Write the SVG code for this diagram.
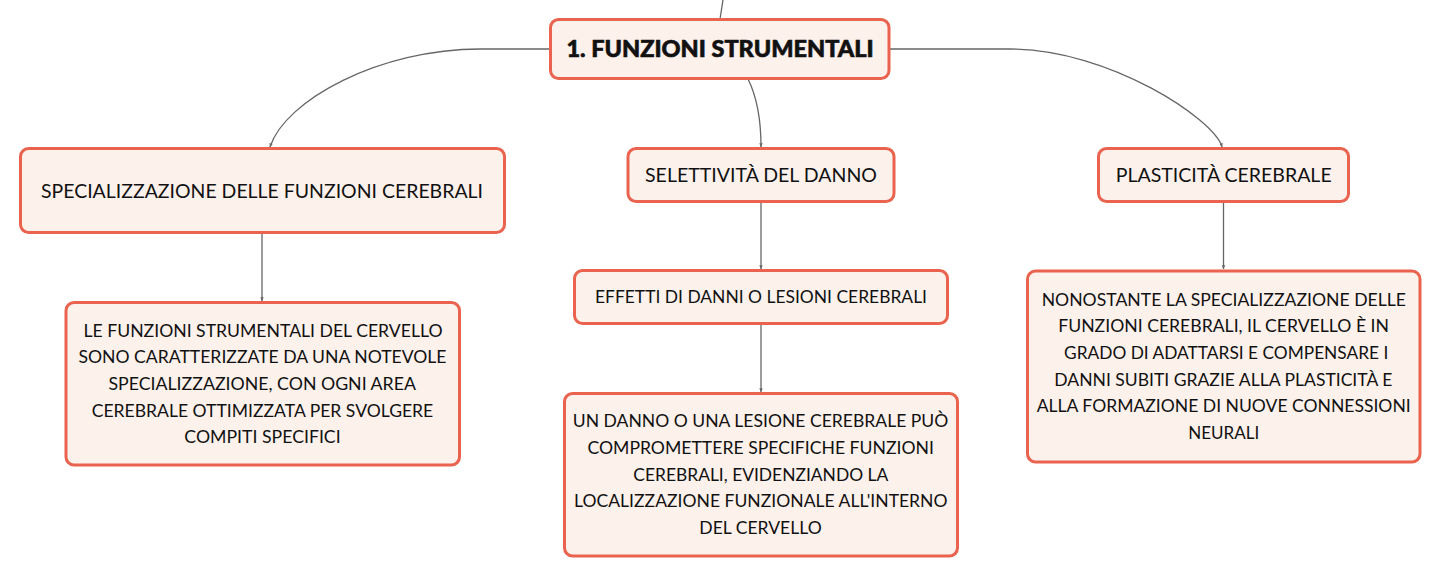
<svg xmlns="http://www.w3.org/2000/svg" width="1441" height="577" viewBox="0 0 1441 577">
<defs>
<marker id="ah" viewBox="0 0 6 6" refX="5.5" refY="3" markerWidth="4" markerHeight="4" orient="auto" markerUnits="userSpaceOnUse">
<path d="M0,0.5 L6,3 L0,5.5 Z" fill="#666"/>
</marker>
</defs>
<style>
.box{fill:#fdf1ec;stroke:#e9634f;stroke-width:3}
.t{font-family:Lato,"Noto Sans","Liberation Sans",sans-serif;fill:#111;text-anchor:middle}
.root{font-size:22px;font-weight:900;stroke:#111;stroke-width:0.6}
.l1{font-size:19px}
.l2{font-size:16.5px}
.lf{font-size:17.5px}
.c{fill:none;stroke:#666;stroke-width:1.3;marker-end:url(#ah)}
</style>
<rect width="1441" height="577" fill="#ffffff"/>
<g id="connectors">
<path class="c" style="marker-end:none" d="M723,0 L720,19"/>
<path class="c" d="M550,49 L480,49 C380,49 285,100 270,147"/>
<path class="c" d="M748,79 Q761,105 761,147"/>
<path class="c" d="M889,49 L1010,49 C1110,49 1215,120 1222,147"/>
<path class="c" d="M262,233 L262,301"/>
<path class="c" d="M761,202 L761,269"/>
<path class="c" d="M761,324 L761,392"/>
<path class="c" d="M1223.5,202 L1223.5,269"/>
</g>
<g id="root">
<rect class="box" x="550.5" y="19.5" width="338.5" height="59" rx="8"/>
<text class="t root" x="720" y="57" textLength="307" lengthAdjust="spacingAndGlyphs">1. FUNZIONI STRUMENTALI</text>
</g>
<g id="spec">
<rect class="box" x="20.5" y="148.5" width="484" height="84" rx="8"/>
<text class="t l1" x="262" y="198" textLength="442" lengthAdjust="spacingAndGlyphs">SPECIALIZZAZIONE DELLE FUNZIONI CEREBRALI</text>
</g>
<g id="sel">
<rect class="box" x="628" y="148.5" width="266" height="53" rx="8"/>
<text class="t l1" x="761" y="182" textLength="232" lengthAdjust="spacingAndGlyphs">SELETTIVITÀ DEL DANNO</text>
</g>
<g id="plast">
<rect class="box" x="1098.5" y="148.5" width="250" height="53" rx="8"/>
<text class="t l1" x="1223.7" y="182" textLength="216" lengthAdjust="spacingAndGlyphs">PLASTICITÀ CEREBRALE</text>
</g>
<g id="spec-leaf">
<rect class="box" x="66" y="302.5" width="393.5" height="162.5" rx="8"/>
<text class="t lf" x="263" y="336.5" textLength="359" lengthAdjust="spacingAndGlyphs">LE FUNZIONI STRUMENTALI DEL CERVELLO</text>
<text class="t lf" x="262.5" y="363.2" textLength="368" lengthAdjust="spacingAndGlyphs">SONO CARATTERIZZATE DA UNA NOTEVOLE</text>
<text class="t lf" x="262.2" y="390" textLength="307.5" lengthAdjust="spacingAndGlyphs">SPECIALIZZAZIONE, CON OGNI AREA</text>
<text class="t lf" x="262.5" y="416.6" textLength="341.5" lengthAdjust="spacingAndGlyphs">CEREBRALE OTTIMIZZATA PER SVOLGERE</text>
<text class="t lf" x="262.5" y="443.3" textLength="156.3" lengthAdjust="spacingAndGlyphs">COMPITI SPECIFICI</text>
</g>
<g id="effetti">
<rect class="box" x="574.5" y="270.5" width="373" height="53" rx="8"/>
<text class="t l2" x="761" y="303" textLength="332" lengthAdjust="spacingAndGlyphs">EFFETTI DI DANNI O LESIONI CEREBRALI</text>
</g>
<g id="effetti-leaf">
<rect class="box" x="564.5" y="393.5" width="393" height="162.5" rx="8"/>
<text class="t lf" x="760.5" y="427.3" textLength="375.5" lengthAdjust="spacingAndGlyphs">UN DANNO O UNA LESIONE CEREBRALE PUÒ</text>
<text class="t lf" x="760.7" y="454" textLength="346.5" lengthAdjust="spacingAndGlyphs">COMPROMETTERE SPECIFICHE FUNZIONI</text>
<text class="t lf" x="760.8" y="480.7" textLength="255" lengthAdjust="spacingAndGlyphs">CEREBRALI, EVIDENZIANDO LA</text>
<text class="t lf" x="760.8" y="507.3" textLength="373.5" lengthAdjust="spacingAndGlyphs">LOCALIZZAZIONE FUNZIONALE ALL'INTERNO</text>
<text class="t lf" x="760.5" y="534" textLength="122.4" lengthAdjust="spacingAndGlyphs">DEL CERVELLO</text>
</g>
<g id="plast-leaf">
<rect class="box" x="1027.5" y="271" width="392.5" height="191" rx="8"/>
<text class="t lf" x="1223.8" y="305.7" textLength="364.3" lengthAdjust="spacingAndGlyphs">NONOSTANTE LA SPECIALIZZAZIONE DELLE</text>
<text class="t lf" x="1223.6" y="332.3" textLength="330.7" lengthAdjust="spacingAndGlyphs">FUNZIONI CEREBRALI, IL CERVELLO È IN</text>
<text class="t lf" x="1226.2" y="359" textLength="324.3" lengthAdjust="spacingAndGlyphs">GRADO DI ADATTARSI E COMPENSARE I</text>
<text class="t lf" x="1223.3" y="385.7" textLength="338" lengthAdjust="spacingAndGlyphs">DANNI SUBITI GRAZIE ALLA PLASTICITÀ E</text>
<text class="t lf" x="1223.7" y="412.3" textLength="374" lengthAdjust="spacingAndGlyphs">ALLA FORMAZIONE DI NUOVE CONNESSIONI</text>
<text class="t lf" x="1223.8" y="439" textLength="71" lengthAdjust="spacingAndGlyphs">NEURALI</text>
</g>
</svg>
